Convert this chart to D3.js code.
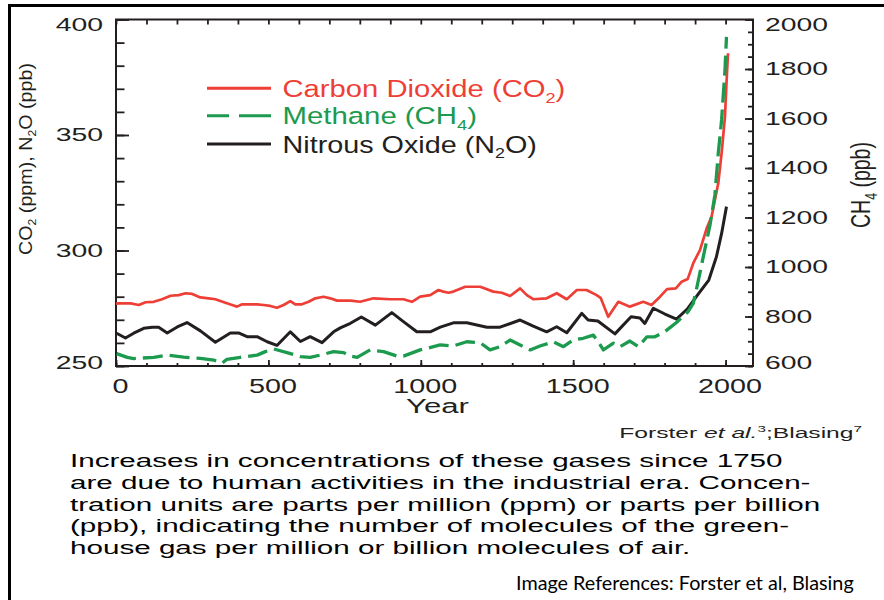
<!DOCTYPE html>
<html><head><meta charset="utf-8">
<script src="https://cdn.jsdelivr.net/npm/d3@7"></script>
<style>
html,body{margin:0;padding:0;background:#fff;}
svg{display:block;}
</style></head><body>
<svg id="c" width="884" height="600"></svg>
<script>
// ---------- DATA ----------
const co2 = [[0,277.0],[10,277.1],[48,277.1],[75,276.4],[97,277.6],[124,277.8],[151,278.9],[179,280.4],[206,280.7],[228,281.5],[250,281.2],[277,279.7],[304,279.3],[326,278.9],[359,277.4],[381,276.4],[397,275.7],[414,276.7],[463,276.7],[484,276.4],[506,276.0],[528,275.2],[550,276.4],[572,278.1],[588,276.7],[610,276.7],[632,277.8],[654,279.3],[681,280.0],[703,279.3],[725,278.3],[769,278.3],[801,277.8],[845,279.3],[900,278.9],[943,278.9],[971,277.8],[998,280.0],[1031,280.7],[1058,282.9],[1074,282.2],[1091,281.7],[1107,282.2],[1146,284.3],[1195,284.3],[1238,282.2],[1266,281.7],[1293,280.3],[1326,283.6],[1348,280.7],[1369,278.9],[1413,279.3],[1446,281.5],[1479,278.9],[1512,282.9],[1544,282.9],[1577,280.7],[1590,279.5],[1615,271.3],[1648,277.8],[1686,275.7],[1730,277.8],[1757,276.4],[1785,280.0],[1808,283.3],[1837,283.6],[1856,286.5],[1876,287.7],[1894,294.5],[1916,300.2],[1938,309.6],[1954,314.6],[1965,321.9],[1976,329.1],[1987,342.1],[1998,357.9],[2003,372.4],[2008,385.4]];
const ch4 = [[2,650],[37,635],[58,630],[124,635],[168,644],[222,636],[277,631],[321,624],[348,611],[364,627],[408,635],[463,644],[490,658],[517,669],[561,654],[605,638],[637,635],[670,644],[714,658],[747,654],[769,640],[791,635],[834,665],[878,658],[922,640],[943,640],[998,665],[1042,678],[1064,685],[1107,681],[1151,698],[1195,694],[1227,665],[1260,678],[1293,705],[1326,685],[1359,665],[1391,681],[1435,698],[1468,678],[1500,705],[1533,712],[1566,725],[1582,698],[1599,665],[1632,692],[1654,678],[1686,701],[1714,678],[1742,718],[1768,718],[1801,739],[1839,776],[1876,818],[1894,853],[1906,919],[1927,1042],[1949,1170],[1965,1291],[1976,1459],[1987,1594],[1998,1796],[2003,1930]];
const n2o = [[2,264.2],[31,262.1],[58,264.2],[91,266.3],[119,266.8],[140,266.8],[168,264.3],[201,266.9],[233,268.8],[277,265.2],[326,260.3],[375,264.3],[402,264.3],[430,262.7],[463,262.7],[496,260.5],[528,258.9],[572,264.8],[605,260.6],[637,262.7],[676,260.1],[714,264.8],[736,266.5],[769,268.5],[805,271.2],[851,267.7],[905,273.1],[943,269.2],[987,264.8],[1031,264.8],[1064,266.8],[1107,268.7],[1151,268.7],[1217,266.8],[1260,266.8],[1326,269.9],[1369,267.3],[1413,264.8],[1446,267.0],[1479,264.4],[1528,272.8],[1549,269.9],[1581,269.5],[1637,263.9],[1690,271.3],[1719,270.8],[1735,268.4],[1763,275.0],[1801,272.5],[1839,270.3],[1876,274.9],[1912,281.4],[1945,287.2],[1970,297.3],[1987,307.4],[2003,319.0]];

const xTickValues = [0, 500, 1000, 1500, 2000];
const leftTickValues = [250, 300, 350, 400];
const rightTickValues = [600, 800, 1000, 1200, 1400, 1600, 1800, 2000];

const legendLabels = [
  ["Carbon Dioxide (CO", ["2","sub"], ")"],
  ["Methane (CH", ["4","sub"], ")"],
  ["Nitrous Oxide (N", ["2","sub"], "O)"]
];
const leftTitle = ["CO", ["2","sub"], " (ppm), N", ["2","sub"], "O (ppb)"];
const rightTitle = ["CH", ["4","sub"], " (ppb)"];
const xTitle = ["Year"];
const sourceNote = ["Forster ", ["et al.","it"], ["3","sup"], ";Blasing", ["7","sup"]];
const captionLines = [
  "Increases in concentrations of these gases since 1750",
  "are due to human activities in the industrial era. Concen-",
  "tration units are parts per million (ppm) or parts per billion",
  "(ppb), indicating the number of molecules of the green-",
  "house gas per million or billion molecules of air."
];
const imageRef = "Image References: Forster et al, Blasing";

// ---------- STYLE ----------
const FONT = '"Liberation Sans", Arial, Helvetica, sans-serif';
const RED = "#ee3f37", GREEN = "#1c9a4e", BLACK = "#231f20";

const svg = d3.select("#c");
svg.append("rect").attr("width", 884).attr("height", 600).attr("fill", "#fff");
// outer frame
svg.append("rect").attr("x", 9.5).attr("y", 5.5).attr("width", 900).attr("height", 700)
  .attr("fill", "none").attr("stroke", "#000").attr("stroke-width", 3);

const x = d3.scaleLinear().domain([0, 2090]).range([116, 753]);
const yL = d3.scaleLinear().domain([250, 400]).range([366, 19.5]);
const yR = d3.scaleLinear().domain([600, 2000]).range([366, 19.5]);

function richText(parent, parts, o) {
  const t = parent.append("text")
    .attr("font-size", o.size)
    .attr("font-family", o.family || FONT)
    .attr("fill", o.fill || BLACK)
    .attr("text-anchor", o.anchor || "start")
    .attr("x", 0).attr("y", 0);
  let shift = 0;
  parts.forEach(p => {
    const [str, kind] = Array.isArray(p) ? p : [p, ""];
    const ts = t.append("tspan").text(str);
    let target = 0;
    if (kind === "sub") target = o.size * 0.25;
    else if (kind === "sup") target = -o.size * 0.4;
    ts.attr("dy", target - shift);
    shift = target;
    if (kind === "sub" || kind === "sup") ts.attr("font-size", o.size * 0.62);
    if (kind === "it") ts.attr("font-style", "italic");
  });
  const w = t.node().getComputedTextLength();
  const k = o.width ? o.width / w : (o.k || 1);
  t.attr("transform", `translate(${o.x},${o.y}) rotate(${o.rot || 0}) scale(${k},1)`);
  return k;
}

function styleAxis(g, size, perChar, dx, dyMap) {
  g.attr("font-family", FONT).attr("font-size", size).attr("color", BLACK);
  g.select(".domain").remove();
  g.selectAll(".tick line").attr("stroke-width", 1.8);
  g.selectAll(".tick text").each(function(d) {
    const t = d3.select(this);
    const w = this.getComputedTextLength();
    if (!w) return;
    const k = perChar * this.textContent.length / w;
    const tx = +t.attr("x") || 0, ty = +t.attr("y") || 0;
    t.attr("x", 0).attr("y", 0)
      .attr("transform", `translate(${tx + dx},${ty + ((dyMap && dyMap[d]) || 0)}) scale(${k},1)`);
  });
}

// minor ticks
const gLm = svg.append("g").attr("transform", "translate(116,0)")
  .call(d3.axisLeft(yL).tickValues(d3.range(250, 401, 10)).tickSize(-8.5).tickFormat(""));
styleAxis(gLm, 18, 0, 0);
const gRm = svg.append("g").attr("transform", "translate(753,0)")
  .call(d3.axisRight(yR).tickValues(d3.range(600, 2001, 50)).tickSize(-5).tickFormat(""));
styleAxis(gRm, 18, 0, 0);
const gBm = svg.append("g").attr("transform", "translate(0,366)")
  .call(d3.axisBottom(x).tickValues(d3.range(0, 2001, 100)).tickSize(-3).tickFormat(""));
styleAxis(gBm, 18, 0, 0);
const gT = svg.append("g").attr("transform", "translate(0,19.5)")
  .call(d3.axisTop(x).tickValues(d3.range(0, 2001, 100)).tickSize(-5).tickFormat(""));
styleAxis(gT, 18, 0, 0);

// major ticks with labels
const gL = svg.append("g").attr("transform", "translate(116,0)")
  .call(d3.axisLeft(yL).tickValues(leftTickValues).tickSize(-13).tickPadding(13).tickFormat(d3.format("d")));
styleAxis(gL, 18.5, 15.8, 0, {400: 5.5, 250: -3});
const gR = svg.append("g").attr("transform", "translate(753,0)")
  .call(d3.axisRight(yR).tickValues(rightTickValues).tickSize(-8).tickPadding(12).tickFormat(d3.format("d")));
styleAxis(gR, 17.5, 15.75, 0, {2000: 5, 600: -3.5});
const gB = svg.append("g").attr("transform", "translate(0,366)")
  .call(d3.axisBottom(x).tickValues(xTickValues).tickSize(-6).tickPadding(12).tickFormat(d3.format("d")));
styleAxis(gB, 20.5, 16, 4);

// plot frame
svg.append("rect").attr("x", 116).attr("y", 19.5).attr("width", 637).attr("height", 346.5)
  .attr("fill", "none").attr("stroke", BLACK).attr("stroke-width", 2);

// series
const lineL = d3.line().x(d => x(d[0])).y(d => yL(d[1]));
const lineR = d3.line().x(d => x(d[0])).y(d => yR(d[1]));
svg.append("path").datum(co2).attr("d", lineL).attr("fill", "none")
  .attr("stroke", RED).attr("stroke-width", 2.7).attr("stroke-linejoin", "round");
svg.append("path").datum(n2o).attr("d", lineL).attr("fill", "none")
  .attr("stroke", BLACK).attr("stroke-width", 3).attr("stroke-linejoin", "round");
svg.append("path").datum(ch4).attr("d", lineR).attr("fill", "none")
  .attr("stroke", GREEN).attr("stroke-width", 3.3).attr("stroke-dasharray", "20,7")
  .attr("stroke-linejoin", "round");

// legend
const legColors = [RED, GREEN, BLACK];
const legDash = [null, "22,10,40", null];
const legY = [88.3, 115.7, 144];
const legW = [283, 194.5, 254.5];
legendLabels.forEach((lab, i) => {
  const ln = svg.append("line").attr("x1", 207).attr("x2", 271).attr("y1", legY[i]).attr("y2", legY[i])
    .attr("stroke", legColors[i]).attr("stroke-width", 3);
  if (legDash[i]) ln.attr("stroke-dasharray", legDash[i]);
  richText(svg, lab, {x: 282.5, y: legY[i] + 8.6, size: 23.5, width: legW[i], fill: legColors[i]});
});

// axis titles
richText(svg, leftTitle, {x: 31.5, y: 159, rot: -90, anchor: "middle", size: 18, width: 192});
richText(svg, rightTitle, {x: 870, y: 185, rot: -90, anchor: "middle", size: 28, width: 86});
richText(svg, xTitle, {x: 437.5, y: 413, anchor: "middle", size: 21, width: 63});

// source note
richText(svg, sourceNote, {x: 862, y: 438, anchor: "end", size: 15, width: 243});

// caption
const capBase = [467.3, 489, 510.7, 532.4, 554.1];
let capK = null;
captionLines.forEach((ln, i) => {
  if (capK === null) capK = richText(svg, [ln], {x: 70, y: capBase[i], size: 17.5, width: 713, fill: "#000"});
  else richText(svg, [ln], {x: 70, y: capBase[i], size: 17.5, k: capK, fill: "#000"});
});

// image reference
richText(svg, [imageRef], {x: 516, y: 590, size: 18.5, width: 338, fill: "#000",
  family: "Lato, 'Open Sans', 'Noto Sans', sans-serif"});
</script>
</body></html>
